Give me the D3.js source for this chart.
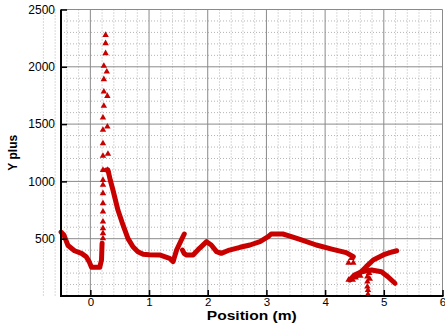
<!DOCTYPE html>
<html>
<head>
<meta charset="utf-8">
<script src="https://cdn.jsdelivr.net/npm/d3@7"></script>
<style>
  body { margin: 0; background: #fff; }
  svg { display: block; font-family: "Liberation Sans", Arial, sans-serif; }
</style>
</head>
<body>
<svg id="chart" width="445" height="326"></svg>
<script>
// y+ along the wall: [position (m), y plus]
const leftWall = [[-0.5, 558], [-0.45, 532], [-0.38, 440], [-0.27, 395], [-0.15, 372], [-0.07, 343],
  [-0.02, 300], [0.02, 250], [0.16, 250], [0.19, 314], [0.2, 460]]

const afterSpike = [[0.27, 1099], [0.3, 1099], [0.34, 1010], [0.385, 925], [0.47, 750], [0.556, 620],
  [0.64, 503], [0.726, 430], [0.81, 387], [0.9, 364], [1.0, 360], [1.18, 358], [1.35, 329],
  [1.41, 300], [1.47, 401], [1.55, 489], [1.6, 541]]

const middle = [[1.57, 401], [1.6, 370], [1.64, 358], [1.75, 358], [1.86, 416], [1.98, 474],
  [2.06, 445], [2.15, 387], [2.23, 372], [2.37, 401], [2.55, 425], [2.72, 445], [2.89, 474],
  [3.03, 518], [3.08, 541], [3.28, 541], [3.4, 523], [3.57, 495], [3.85, 445], [4.13, 407],
  [4.36, 378], [4.48, 343]]

const rising = [[4.55, 180], [4.59, 198], [4.7, 256], [4.82, 314], [4.99, 358], [5.1, 378], [5.22, 395]]

const arcTail = [[4.42, 140], [4.5, 183], [4.62, 212], [4.79, 227], [4.96, 212], [5.07, 168], [5.19, 111]]

// loose symbols
const spikePoints = [[0.215, 503], [0.215, 547], [0.215, 591], [0.215, 649], [0.215, 736], [0.215, 809],
  [0.215, 896], [0.215, 969], [0.215, 1012], [0.215, 1099], [0.215, 1222], [0.215, 1332],
  [0.215, 1449], [0.215, 1556], [0.23, 1658], [0.23, 1783], [0.23, 1891], [0.23, 2007],
  [0.26, 2118], [0.26, 2205], [0.26, 2277], [0.295, 1099], [0.3, 1239], [0.29, 1477],
  [0.29, 1745], [0.28, 1957]]

const tailPoints = [[4.4, 290], [4.48, 290], [4.45, 330], [4.4, 140], [4.47, 140], [4.52, 160],
  [4.6, 175], [4.72, 168], [4.72, 125], [4.72, 81], [4.73, 52], [4.73, 15], [4.75, 200], [4.76, 150]]

const xTicks = [0, 1, 2, 3, 4, 5, 6]
const yTicks = [500, 1000, 1500, 2000, 2500]

const red = '#c80000'

const svg = d3.select('#chart')
const mLeft = 61, mRight = 442.5, mTop = 9.5, mBottom = 296

const x = d3.scaleLinear().domain([-0.5, 6]).range([mLeft, mRight])
const y = d3.scaleLinear().domain([0, 2500]).range([mBottom, mTop])

const xMinor = d3.range(-4, 31).map(d => d / 5).filter(d => !xTicks.includes(d))
const yMinor = d3.range(1, 25).map(d => d * 100).filter(d => d % 500 !== 0)

// grid
const grid = svg.append('g')
grid.selectAll('.xmin').data(xMinor).enter().append('line')
  .attr('x1', d => x(d)).attr('x2', d => x(d)).attr('y1', mTop).attr('y2', mBottom)
  .attr('stroke', '#b4b4b4').attr('stroke-dasharray', '1,2')
grid.selectAll('.ymin').data(yMinor).enter().append('line')
  .attr('y1', d => y(d)).attr('y2', d => y(d)).attr('x1', mLeft).attr('x2', mRight)
  .attr('stroke', '#b4b4b4').attr('stroke-dasharray', '1,2')
grid.selectAll('.xmaj').data(xTicks).enter().append('line')
  .attr('x1', d => x(d)).attr('x2', d => x(d)).attr('y1', mTop).attr('y2', mBottom)
  .attr('stroke', '#8a8a8a')
grid.selectAll('.ymaj').data(yTicks).enter().append('line')
  .attr('y1', d => y(d)).attr('y2', d => y(d)).attr('x1', mLeft).attr('x2', mRight)
  .attr('stroke', '#8a8a8a')

// data
const line = d3.line().x(d => x(d[0])).y(d => y(d[1]))
const plot = svg.append('g')
plot.selectAll('path.curve')
  .data([leftWall, afterSpike, middle, rising, arcTail])
  .enter().append('path')
  .attr('class', 'curve')
  .attr('d', line)
  .attr('fill', 'none')
  .attr('stroke', red)
  .attr('stroke-width', 5)
  .attr('stroke-linejoin', 'round')
  .attr('stroke-linecap', 'round')

const tri = d3.symbol().type(d3.symbolTriangle).size(18)
plot.selectAll('path.pt')
  .data(spikePoints.concat(tailPoints))
  .enter().append('path')
  .attr('class', 'pt')
  .attr('d', tri)
  .attr('transform', d => 'translate(' + x(d[0]) + ',' + y(d[1]) + ')')
  .attr('fill', red)

// axes
const axX = svg.append('g').attr('transform', 'translate(0,' + mBottom + ')')
axX.call(d3.axisBottom(x).tickValues(xMinor).tickSize(-3).tickFormat(''))
axX.call(d3.axisBottom(x).tickValues(xTicks).tickSize(-6).tickPadding(2).tickFormat(d3.format('d')))
axX.selectAll('.tick text').style('font-size', '11.5px')

const axY = svg.append('g').attr('transform', 'translate(' + mLeft + ',0)')
axY.call(d3.axisLeft(y).tickValues(yMinor).tickSize(-3).tickFormat(''))
axY.call(d3.axisLeft(y).tickValues(yTicks).tickSize(-6).tickPadding(6).tickFormat(d3.format('d')))
axY.selectAll('.tick text').style('font-size', '12px')

svg.selectAll('.domain').remove()
svg.selectAll('.tick line').attr('stroke', '#000').attr('stroke-width', 1.5)
svg.selectAll('.tick text').attr('fill', '#000')

svg.append('line').attr('x1', mLeft).attr('x2', mRight + 1).attr('y1', mBottom).attr('y2', mBottom)
  .attr('stroke', '#000').attr('stroke-width', 2)
svg.append('line').attr('x1', mLeft).attr('x2', mLeft).attr('y1', mTop).attr('y2', mBottom + 1)
  .attr('stroke', '#000').attr('stroke-width', 2)

// titles
svg.append('text')
  .attr('x', (mLeft + mRight) / 2).attr('y', 319.5)
  .attr('text-anchor', 'middle')
  .attr('font-weight', 'bold').attr('font-size', 12)
  .attr('textLength', 90).attr('lengthAdjust', 'spacingAndGlyphs')
  .text('Position (m)')

svg.append('text')
  .attr('transform', 'translate(17,' + (mTop + mBottom) / 2 + ') rotate(-90)')
  .attr('text-anchor', 'middle')
  .attr('font-weight', 'bold').attr('font-size', 12)
  .text('Y plus')
</script>
</body>
</html>
